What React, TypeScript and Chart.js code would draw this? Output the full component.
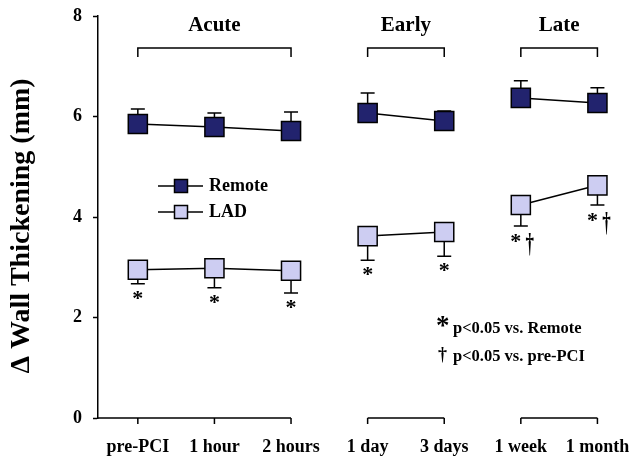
import React, { useEffect, useRef } from "react";
import { Chart, registerables } from "chart.js";

Chart.register(...registerables);

const categories = ["pre-PCI", "1 hour", "2 hours", "1 day", "3 days", "1 week", "1 month"];
const groupOf = [0, 0, 0, 1, 1, 2, 2];
const groupLabels = ["Acute", "Early", "Late"];
const remoteMean = [5.85, 5.79, 5.71, 6.07, 5.91, 6.37, 6.27];
const remoteSE = [0.3, 0.28, 0.38, 0.4, 0.2, 0.34, 0.3];
const ladMean = [2.95, 2.98, 2.93, 3.62, 3.7, 4.24, 4.63];
const ladSE = [0.28, 0.39, 0.44, 0.48, 0.48, 0.42, 0.39];
const ladMarks = ["*", "*", "*", "*", "*", "*†", "*†"];
const yTicks = [0, 2, 4, 6, 8];
const yTitle = "Δ Wall Thickening (mm)";

const SERIF = "'Liberation Serif', 'Times New Roman', 'DejaVu Serif', serif";
const REMOTE_FILL = "#22236e";
const LAD_FILL = "#cdcdf2";

const decorPlugin = {
  id: "decor",
  beforeDatasetsDraw(chart: any) {
    const ctx = chart.ctx;
    const x = chart.scales.x;
    const y = chart.scales.y;
    ctx.save();
    ctx.strokeStyle = "#000";
    ctx.lineWidth = 1.5;
    const drawErr = (means: number[], se: number[], dir: number) => {
      means.forEach((m, i) => {
        const px = x.getPixelForValue(i);
        const p0 = y.getPixelForValue(m);
        const p1 = y.getPixelForValue(m + dir * se[i]);
        ctx.beginPath();
        ctx.moveTo(px, p0);
        ctx.lineTo(px, p1);
        ctx.moveTo(px - 7, p1);
        ctx.lineTo(px + 7, p1);
        ctx.stroke();
      });
    };
    drawErr(remoteMean, remoteSE, 1);
    drawErr(ladMean, ladSE, -1);
    ctx.restore();
  },
  afterDraw(chart: any) {
    const ctx = chart.ctx;
    const x = chart.scales.x;
    const y = chart.scales.y;
    const area = chart.chartArea;
    ctx.save();
    ctx.strokeStyle = "#000";
    ctx.fillStyle = "#000";
    ctx.lineWidth = 1.5;
    // y axis title
    ctx.save();
    ctx.translate(22, 226);
    ctx.rotate(-Math.PI / 2);
    ctx.font = `bold 28px ${SERIF}`;
    ctx.textAlign = "center";
    ctx.textBaseline = "middle";
    ctx.fillText(yTitle, 0, 0);
    ctx.restore();
    const base = y.getPixelForValue(0);
    for (let g = 0; g < groupLabels.length; g++) {
      const idx = categories.map((_, i) => i).filter((i) => groupOf[i] === g);
      const first = idx[0];
      const last = idx[idx.length - 1];
      const xs = x.getPixelForValue(first);
      const xe = x.getPixelForValue(last);
      const segStart = g === 0 ? area.left : xs;
      ctx.beginPath();
      ctx.moveTo(segStart, base);
      ctx.lineTo(xe, base);
      idx.forEach((i) => {
        const px = x.getPixelForValue(i);
        ctx.moveTo(px, base);
        ctx.lineTo(px, base + 6);
      });
      ctx.stroke();
      const by = 48;
      ctx.beginPath();
      ctx.moveTo(xs, by + 9);
      ctx.lineTo(xs, by);
      ctx.lineTo(xe, by);
      ctx.lineTo(xe, by + 9);
      ctx.stroke();
      ctx.font = `bold 21px ${SERIF}`;
      ctx.textAlign = "center";
      ctx.textBaseline = "middle";
      ctx.fillText(groupLabels[g], (xs + xe) / 2, 26);
    }
    ladMarks.forEach((mark, i) => {
      const px = x.getPixelForValue(i);
      const py = y.getPixelForValue(ladMean[i] - ladSE[i]);
      ctx.font = `bold 22px ${SERIF}`;
      ctx.textAlign = "center";
      ctx.textBaseline = "middle";
      if (mark.length === 1) {
        ctx.fillText("*", px, py + 15);
      } else {
        ctx.fillText("*", px - 5, py + 16);
        ctx.save();
        ctx.translate(px + 9, py + 5);
        ctx.scale(1, 1.6);
        ctx.font = `bold 17px ${SERIF}`;
        ctx.textBaseline = "top";
        ctx.fillText("†", 0, 0);
        ctx.restore();
      }
    });
    const ds = chart.data.datasets;
    const legendItems = [
      { label: ds[0].label, fill: REMOTE_FILL, yy: 186 },
      { label: ds[1].label, fill: LAD_FILL, yy: 212 },
    ];
    legendItems.forEach((it) => {
      ctx.beginPath();
      ctx.moveTo(158, it.yy);
      ctx.lineTo(203, it.yy);
      ctx.stroke();
      ctx.fillStyle = it.fill;
      ctx.fillRect(174.5, it.yy - 6.5, 13, 13);
      ctx.strokeRect(174.5, it.yy - 6.5, 13, 13);
      ctx.fillStyle = "#000";
      ctx.font = `bold 18px ${SERIF}`;
      ctx.textAlign = "left";
      ctx.textBaseline = "middle";
      ctx.fillText(it.label, 209, it.yy);
    });
    ctx.textAlign = "left";
    ctx.textBaseline = "middle";
    ctx.font = `bold 27px ${SERIF}`;
    ctx.fillText("*", 436, 327);
    ctx.font = `bold 16.5px ${SERIF}`;
    ctx.fillText("p<0.05 vs. Remote", 453, 329);
    ctx.font = `bold 18px ${SERIF}`;
    ctx.fillText("†", 438, 355);
    ctx.font = `bold 16.5px ${SERIF}`;
    ctx.fillText("p<0.05 vs. pre-PCI", 453, 357);
    ctx.restore();
  },
};

const segColor = (ctx: any) =>
  groupOf[ctx.p0DataIndex] !== groupOf[ctx.p1DataIndex] ? "rgba(0,0,0,0)" : "#000";

export default function App() {
  const ref = useRef<HTMLCanvasElement>(null);
  useEffect(() => {
    if (!ref.current) return;
    const chart = new Chart(ref.current, {
      type: "line",
      data: {
        datasets: [
          {
            label: "Remote",
            data: remoteMean.map((v, i) => ({ x: i, y: v })),
            borderColor: "#000",
            borderWidth: 1.5,
            pointStyle: "rect",
            pointRadius: 13.5,
            pointBackgroundColor: REMOTE_FILL,
            pointBorderColor: "#000",
            pointBorderWidth: 1.5,
            segment: { borderColor: segColor },
          },
          {
            label: "LAD",
            data: ladMean.map((v, i) => ({ x: i, y: v })),
            borderColor: "#000",
            borderWidth: 1.5,
            pointStyle: "rect",
            pointRadius: 13.5,
            pointBackgroundColor: LAD_FILL,
            pointBorderColor: "#000",
            pointBorderWidth: 1.5,
            segment: { borderColor: segColor },
          },
        ],
      },
      options: {
        animation: false,
        responsive: false,
        devicePixelRatio: 1,
        layout: { padding: { top: 16, right: 6, left: 0, bottom: 0 } },
        plugins: { legend: { display: false }, tooltip: { enabled: false } },
        scales: {
          x: {
            type: "linear",
            min: -0.52,
            max: 6.373,
            grid: { display: false },
            border: { display: false },
            afterBuildTicks: (scale: any) => {
              scale.ticks = categories.map((_, i) => ({ value: i }));
            },
            afterFit: (scale: any) => {
              scale.height = 46;
              scale.paddingLeft = 0;
              scale.paddingRight = 0;
            },
            ticks: {
              autoSkip: false,
              maxRotation: 0,
              padding: 11,
              color: "#000",
              font: { family: SERIF, size: 18, weight: "bold" },
              callback: (v: any) => categories[v],
            },
          },
          y: {
            min: 0,
            max: 8,
            afterBuildTicks: (scale: any) => {
              scale.ticks = yTicks.map((v) => ({ value: v }));
            },
            afterFit: (scale: any) => {
              scale.width = 98;
              scale.paddingTop = 0;
              scale.paddingBottom = 0;
            },
            grid: {
              drawOnChartArea: false,
              tickLength: 5,
              tickColor: "#000",
              tickWidth: 1.5,
            },
            border: { color: "#000", width: 1.5 },
            ticks: {
              padding: 11,
              color: "#000",
              font: { family: SERIF, size: 18, weight: "bold" },
            },
            title: { display: false },
          },
        },
      },
      plugins: [decorPlugin],
    } as any);
    return () => chart.destroy();
  }, []);
  return (
    <div style={{ position: "fixed", left: 0, top: 0, width: 641, height: 464, background: "#fff" }}>
      <canvas ref={ref} width={641} height={464} style={{ width: 641, height: 464 }} />
    </div>
  );
}
